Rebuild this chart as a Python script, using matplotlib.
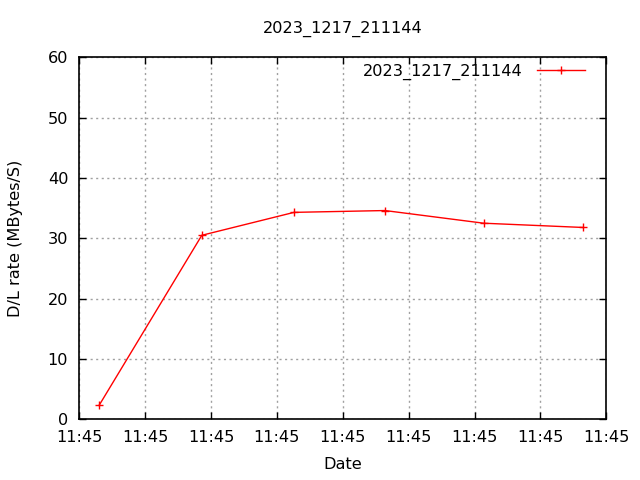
import matplotlib
matplotlib.use("Agg")
import matplotlib.pyplot as plt
from matplotlib.ticker import FuncFormatter, MultipleLocator

title = "2023_1217_211144"
series_name = "2023_1217_211144"
# seconds after 11:45:00
seconds = [1.5, 9.3, 16.3, 23.2, 30.7, 38.2]
rates = [2.3, 30.5, 34.3, 34.6, 32.5, 31.8]
base_hour, base_min = 11, 45

FS = 11.6
fig = plt.figure(figsize=(6.4, 4.8), dpi=100)
ax = fig.add_axes([79.3/640, 1-419.3/480, (606.3-79.3)/640, (419.3-57.3)/480])

ax.plot(seconds, rates, color="#ff0000", lw=1.0, marker="+", ms=6, mew=1.0,
        label=series_name)

ax.set_xlim(0, 40)
ax.set_ylim(0, 60)
ax.xaxis.set_major_locator(MultipleLocator(5))
ax.yaxis.set_major_locator(MultipleLocator(10))

def fmt(x, pos):
    total = base_hour*3600 + base_min*60 + x
    h = int(total // 3600)
    m = int((total % 3600) // 60)
    return f"{h:02d}:{m:02d}"
ax.xaxis.set_major_formatter(FuncFormatter(fmt))

ax.grid(True, color="#a0a0a0", linestyle=(0, (1.5, 2.5)), linewidth=1.0)
ax.tick_params(direction="in", length=5, width=1, top=True, right=True,
               labelsize=FS, colors="black", pad=8)
for s in ax.spines.values():
    s.set_linewidth(1.2)

ax.set_title(title, fontsize=FS, pad=18)
ax.set_xlabel("Date", fontsize=FS, labelpad=8)
ax.set_ylabel("D/L rate (MBytes/S)", fontsize=FS, labelpad=18)

leg = ax.legend(loc="upper right", frameon=False, fontsize=FS, markerfirst=False,
                handlelength=3.0, handletextpad=0.9, borderaxespad=0.0,
                bbox_to_anchor=(0.972, 1.0))

fig.savefig("out.png", dpi=100)
